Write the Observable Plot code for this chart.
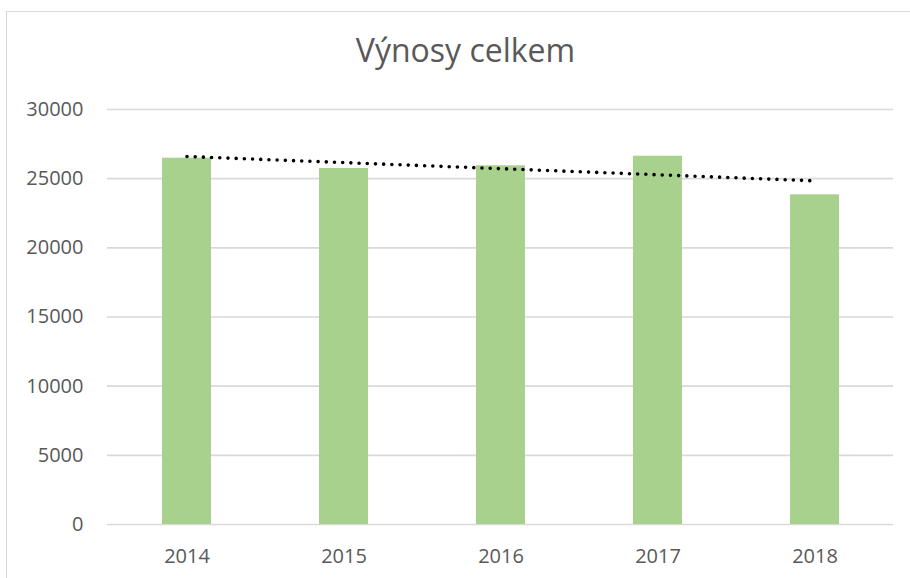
<!DOCTYPE html>
<html>
<head>
<meta charset="utf-8">
<script src="https://cdn.jsdelivr.net/npm/d3@7"></script>
<script src="https://cdn.jsdelivr.net/npm/@observablehq/plot@0.6"></script>
<style>
  html, body { margin: 0; padding: 0; background: #fff; }
  #wrap { position: relative; width: 910px; height: 578px; overflow: hidden; }
  #border { position: absolute; left: 6px; top: 11px; width: 1000px; height: 700px;
            border-left: 1.5px solid #d9d9d9; border-top: 1.5px solid #d9d9d9; box-sizing: border-box; }
  #chart { position: absolute; left: 0; top: 0; }
</style>
</head>
<body>
<div id="wrap"><div id="border"></div><div id="chart"></div></div>
<script>
const title = "Výnosy celkem";
const years = ["2014", "2015", "2016", "2017", "2018"];
const values = [26480, 25735, 25930, 26625, 23834];
const yTicks = [0, 5000, 10000, 15000, 20000, 25000, 30000];

const data = years.map((year, i) => ({year, value: values[i]}));

// linear trendline (least squares over category index), as Excel does
const idx = years.map((_, i) => i + 1);
const mx = d3.mean(idx), my = d3.mean(values);
const slope = d3.sum(idx, (x, i) => (x - mx) * (values[i] - my)) / d3.sum(idx, x => (x - mx) ** 2);
const intercept = my - slope * mx;
const trend = years.map((year, i) => ({year, value: intercept + slope * idx[i]}));

const textColor = "#595959";

const chart = Plot.plot({
  width: 910,
  height: 578,
  marginLeft: 107,
  marginRight: 17,
  marginTop: 109,
  marginBottom: 54,
  style: {fontFamily: "Open Sans", fontSize: "20px", color: textColor, background: "transparent"},
  x: {domain: years, paddingInner: 0.69, paddingOuter: 0.345, align: 0.5, label: null},
  y: {domain: [0, 30000], label: null},
  marks: [
    Plot.gridY(yTicks, {stroke: "#d9d9d9", strokeOpacity: 1, strokeWidth: 1.6}),
    Plot.barY(data, {x: "year", y: "value", fill: "#a9d18e"}),
    Plot.line(trend, {x: "year", y: "value", stroke: "#000", strokeWidth: 3.6,
      strokeDasharray: "0 8.2", strokeLinecap: "round"}),
    Plot.axisY(yTicks, {tickSize: 0, tickPadding: 24, tickFormat: d => String(d), fill: textColor, fontSize: 20}),
    Plot.axisX({tickSize: 0, tickPadding: 24, fill: textColor, fontSize: 20}),
    Plot.text([title], {frameAnchor: "top", dy: -48, lineAnchor: "bottom", fontSize: 32, fill: textColor, dx: -35})
  ]
});
document.getElementById("chart").appendChild(chart);
</script>
</body>
</html>
